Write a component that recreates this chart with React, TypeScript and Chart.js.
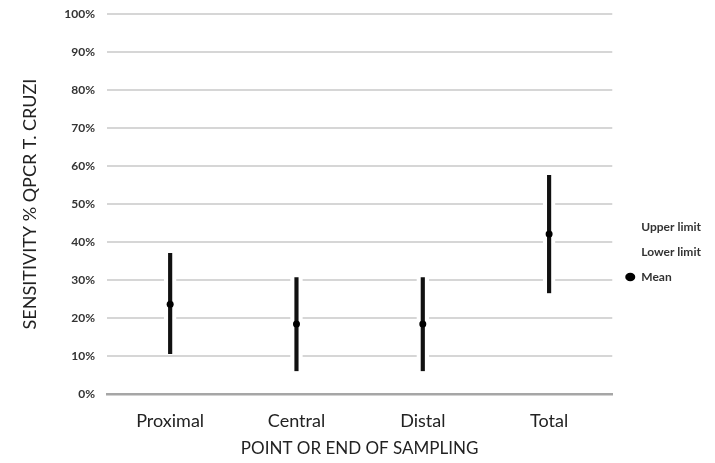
import React, { useEffect, useRef } from 'react';
import { Chart, registerables } from 'chart.js';

Chart.register(...registerables);

const categories = ['Proximal', 'Central', 'Distal', 'Total'];
const upperLimit = [37.1, 30.7, 30.7, 57.6];
const lowerLimit = [10.5, 6.0, 6.0, 26.5];
const meanValues = [23.6, 18.4, 18.4, 42.1];
const yTicks = [0, 10, 20, 30, 40, 50, 60, 70, 80, 90, 100];
const legendLabels = ['Upper limit', 'Lower limit', 'Mean'];

const FONT = 'Lato, "Open Sans", sans-serif';

export default function App() {
  const ref = useRef<HTMLCanvasElement | null>(null);

  useEffect(() => {
    if (!ref.current) return;
    const chart = new Chart(ref.current, {
      type: 'bar',
      data: {
        labels: categories,
        datasets: [
          {
            type: 'line',
            label: legendLabels[0],
            data: upperLimit,
            showLine: false,
            pointRadius: 0,
            order: 2,
          },
          {
            type: 'line',
            label: legendLabels[1],
            data: lowerLimit,
            showLine: false,
            pointRadius: 0,
            order: 2,
          },
          {
            type: 'line',
            label: legendLabels[2],
            data: meanValues,
            showLine: false,
            pointRadius: 3.5,
            pointBackgroundColor: '#000',
            pointBorderColor: '#000',
            pointBorderWidth: 0,
            order: 0,
          },
          {
            type: 'bar',
            label: 'range',
            data: categories.map((_, i) => [lowerLimit[i], upperLimit[i]]) as any,
            backgroundColor: '#111',
            borderColor: '#fff',
            borderWidth: { left: 4.25, right: 4.25, top: 0, bottom: 0 } as any,
            borderSkipped: false,
            barThickness: 12,
            order: 1,
          },
        ] as any,
      },
      options: {
        animation: false,
        responsive: true,
        maintainAspectRatio: false,
        layout: { autoPadding: false, padding: { top: 6, right: -4, bottom: 0, left: 0 } },
        plugins: {
          tooltip: { enabled: false },
          legend: {
            position: 'right',
            align: 'center',
            title: { display: true, text: ' ', padding: { top: 26, bottom: 0 }, font: { size: 1 } },
            labels: {
              usePointStyle: true,
              pointStyleWidth: 10,
              boxWidth: 10,
              boxHeight: 6,
              padding: 13,
              color: '#333',
              font: { family: FONT, size: 12, weight: 'bold' },
              generateLabels: () =>
                legendLabels.map((t, i) => ({
                  text: t,
                  fillStyle: i === 2 ? '#000' : 'rgba(0,0,0,0)',
                  strokeStyle: 'rgba(0,0,0,0)',
                  lineWidth: 0,
                  pointStyle: 'circle',
                  hidden: false,
                  datasetIndex: i,
                  fontColor: '#333',
                })) as any,
            },
          },
        },
        scales: {
          x: {
            offset: true,
            afterFit: (s: any) => {
              s.height = 69;
              s.paddingLeft = 0;
              s.paddingRight = 0;
            },
            grid: { display: false, drawTicks: false },
            border: { display: true, color: '#a6a6a6', width: 2.5 },
            ticks: { color: '#222', font: { family: FONT, size: 18 }, padding: 16 },
            title: {
              display: true,
              text: 'POINT OR END OF SAMPLING',
              color: '#222',
              font: { family: FONT, size: 17 },
              padding: { top: 2, bottom: 4 },
            },
          },
          y: {
            min: 0,
            max: 100,
            afterFit: (s: any) => {
              s.width = 99;
              s.paddingTop = 0;
              s.paddingBottom = 0;
            },
            afterBuildTicks: (s: any) => {
              s.ticks = yTicks.map((v) => ({ value: v }));
            },
            grid: { color: '#d6d6d6', lineWidth: 2, drawTicks: false },
            border: { display: false },
            ticks: {
              color: '#333',
              font: { family: FONT, size: 12, weight: 'bold' },
              padding: 12,
              callback: (v: any) => v + '%',
            },
            title: {
              display: true,
              text: 'SENSITIVITY % QPCR T. CRUZI',
              color: '#222',
              font: { family: FONT, size: 18 },
              padding: { top: 11, bottom: 0 },
            },
          },
        },
      } as any,
    });
    return () => chart.destroy();
  }, []);

  return (
    <div style={{ width: 699, height: 455, marginBottom: -8, position: 'relative' }}>
      <canvas ref={ref} />
    </div>
  );
}
